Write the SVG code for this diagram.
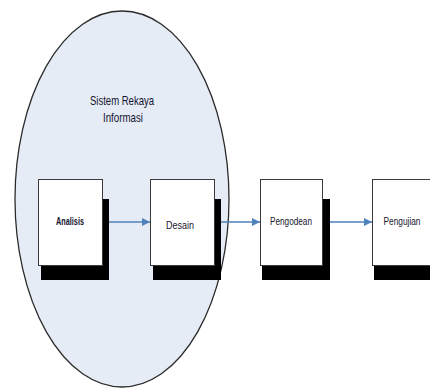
<svg xmlns="http://www.w3.org/2000/svg" width="430" height="389" viewBox="0 0 430 389">
  <style>
    .frame { fill: #e6ecf6; stroke: #2b2b2b; stroke-width: 1.3; }
    .shadow { fill: #000000; }
    .box { fill: #ffffff; stroke: #3a3a3a; stroke-width: 1; }
    .label { font-family: "Liberation Sans", Arial, sans-serif; font-size: 10.5px; fill: #14142e; text-anchor: middle; }
    .title { font-family: "Liberation Sans", Arial, sans-serif; font-size: 13px; fill: #14142e; text-anchor: middle; }
    .flow { stroke: #4f81bd; stroke-width: 1.6; fill: none; marker-end: url(#head); }
  </style>
  <defs>
    <marker id="head" viewBox="0 0 10 10" refX="10" refY="5" markerWidth="5" markerHeight="5" orient="auto" markerUnits="strokeWidth">
      <path d="M0,0 L10,5 L0,10 z" fill="#4f81bd"/>
    </marker>
  </defs>

  <rect width="430" height="389" fill="#ffffff"/>

  <g id="sistem-rekaya-informasi">
    <ellipse class="frame" cx="122" cy="199" rx="107" ry="188"/>
    <text class="title" x="122" y="105" textLength="64" lengthAdjust="spacingAndGlyphs">Sistem Rekaya</text>
    <text class="title" x="123" y="122" textLength="40" lengthAdjust="spacingAndGlyphs">Informasi</text>
  </g>

  <g id="connectors">
    <line class="flow" x1="102" y1="222" x2="150" y2="222"/>
    <line class="flow" x1="214" y1="222" x2="260" y2="222"/>
    <line class="flow" x1="323" y1="222" x2="372" y2="222"/>
  </g>

  <g id="analisis">
    <rect class="shadow" x="41" y="199" width="68" height="81"/>
    <rect class="box" x="38.5" y="179.5" width="64" height="86"/>
    <text class="label" x="70" y="225" font-weight="bold" textLength="28" lengthAdjust="spacingAndGlyphs">Analisis</text>
  </g>

  <g id="desain">
    <rect class="shadow" x="153" y="199" width="68" height="81"/>
    <rect class="box" x="150.5" y="179.5" width="64" height="86"/>
    <text class="label" x="180" y="229" textLength="28" lengthAdjust="spacingAndGlyphs">Desain</text>
  </g>

  <g id="pengodean">
    <rect class="shadow" x="262" y="199" width="68" height="81"/>
    <rect class="box" x="260.5" y="179.5" width="62" height="86"/>
    <text class="label" x="291" y="225" textLength="42" lengthAdjust="spacingAndGlyphs">Pengodean</text>
  </g>

  <g id="pengujian">
    <rect class="shadow" x="374" y="199" width="68" height="81"/>
    <rect class="box" x="372.5" y="179.5" width="64" height="86"/>
    <text class="label" x="402" y="225" textLength="37" lengthAdjust="spacingAndGlyphs">Pengujian</text>
  </g>
</svg>
